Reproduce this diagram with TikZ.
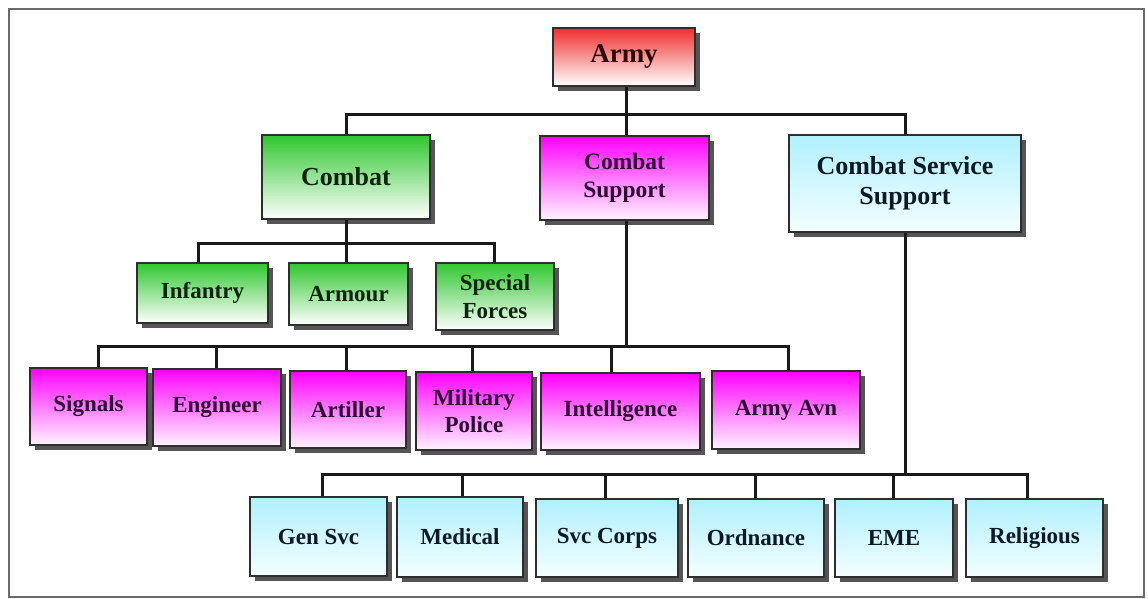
\documentclass[tikz,border=0pt]{standalone}
\usepackage{fontspec}
\setmainfont{Liberation Serif}
\usetikzlibrary{shadows}
\definecolor{frameg}{HTML}{6A6A6A}
\definecolor{boxline}{HTML}{2E2E2E}
\definecolor{shadowg}{HTML}{555555}
\definecolor{redtop}{HTML}{F02E2E}
\definecolor{greentop}{HTML}{2FC72F}
\definecolor{magtop}{HTML}{FF00FF}
\definecolor{cyantop}{HTML}{B0F0FF}
\definecolor{cyanbot}{HTML}{F4FEFF}
\definecolor{magbot}{HTML}{FFF4FF}
\definecolor{txtred}{HTML}{2A0A0A}
\definecolor{txtgreen}{HTML}{0E240E}
\definecolor{txtmag}{HTML}{2C0C32}
\definecolor{txtcyan}{HTML}{0C1A24}
\tikzset{
  box/.style={draw=boxline, line width=1.2pt, inner sep=0pt, align=center,
    drop shadow={shadow xshift=5pt, shadow yshift=-5pt, fill=shadowg, opacity=1}},
  redbox/.style={box, top color=redtop, bottom color=white, text=txtred},
  greenbox/.style={box, top color=greentop, bottom color=white, text=txtgreen},
  magbox/.style={box, top color=magtop, bottom color=magbot, text=txtmag},
  cyanbox/.style={box, top color=cyantop, bottom color=cyanbot, text=txtcyan},
  big/.style={font=\bfseries\fontsize{26}{30}\selectfont},
  mid/.style={font=\bfseries\fontsize{23.5}{28}\selectfont},
  small/.style={font=\bfseries\fontsize{23}{27.5}\selectfont},
  conn/.style={line width=3pt, draw=black!90}
}
\begin{document}
\begin{tikzpicture}[x=1pt,y=-1pt]
\useasboundingbox (0,0) rectangle (1148,599);
\fill[white] (0,0) rectangle (1148,599);
\draw[frameg, line width=2.5pt] (9,9) rectangle (1144,597);

% level 0 and 1
\node[redbox, big, font=\bfseries\fontsize{27}{30}\selectfont, minimum width=142pt, minimum height=58pt] (army) at (624,57) {Army};
\node[greenbox, big, minimum width=168pt, minimum height=84pt] (combat) at (346,177) {Combat};
\node[magbox, mid, minimum width=169pt, minimum height=84pt] (cs) at (624.5,178) {Combat\\Support};
\node[cyanbox, big, minimum width=232pt, minimum height=97pt] (css) at (905,183.5) {Combat Service\\Support};

% combat children
\node[greenbox, small, minimum width=131pt, minimum height=60pt] (inf) at (202.5,293) {Infantry};
\node[greenbox, small, minimum width=119pt, minimum height=62pt] (arm) at (348.5,294) {Armour};
\node[greenbox, small, minimum width=118pt, minimum height=67pt] (sf) at (495,296.5) {Special\\Forces};

% combat support children
\node[magbox, small, minimum width=117pt, minimum height=77pt] (sig) at (88.5,406.5) {Signals};
\node[magbox, small, minimum width=128pt, minimum height=77pt] (eng) at (217,407.5) {Engineer};
\node[magbox, small, minimum width=116pt, minimum height=77pt] (art) at (348,409.5) {Artiller};
\node[magbox, small, minimum width=116pt, minimum height=78pt] (mp) at (474,411) {Military\\Police};
\node[magbox, small, minimum width=159pt, minimum height=77pt] (intel) at (620.5,411.5) {Intelligence};
\node[magbox, small, minimum width=148pt, minimum height=78pt] (avn) at (786,410) {Army Avn};

% combat service support children
\node[cyanbox, small, minimum width=137pt, minimum height=79pt] (gen) at (318.5,536.5) {Gen Svc};
\node[cyanbox, small, minimum width=126pt, minimum height=80pt] (med) at (460,537) {Medical};
\node[cyanbox, small, minimum width=142pt, minimum height=78pt] (svc) at (607,538) {Svc Corps};
\node[cyanbox, small, minimum width=136pt, minimum height=78pt] (ord) at (756,538) {Ordnance};
\node[cyanbox, small, minimum width=118pt, minimum height=78pt] (eme) at (894,538) {EME};
\node[cyanbox, small, minimum width=137pt, minimum height=78pt] (rel) at (1034.5,538) {Religious};

% bar junctions
\coordinate (bar0) at (626,115);
\coordinate (bar1) at (346,243);
\coordinate (bar2) at (626,346);
\coordinate (bar3) at (905,474);

% connectors: level 0 -> 1
\draw[conn] ([xshift=2pt]army.south) -- ([xshift=1.5pt]cs.north);
\draw[conn] (combat.north) |- (bar0) -| (css.north);

% combat
\draw[conn] (combat.south) -- (bar1);
\draw[conn] ([xshift=-4.5pt]inf.north) |- (bar1) -| ([xshift=-1pt]sf.north);
\draw[conn] ([xshift=-2.5pt]arm.north) |- (bar1);

% combat support
\draw[conn] ([xshift=1.5pt]cs.south) -- (bar2);
\draw[conn] ([xshift=9.5pt]sig.north) |- (bar2) -| ([xshift=2pt]avn.north);
\draw[conn] ([xshift=-1pt]eng.north) |- (bar2);
\draw[conn] ([xshift=-2pt]art.north) |- (bar2);
\draw[conn] ([xshift=-2pt]mp.north) |- (bar2);
\draw[conn] ([xshift=-9.5pt]intel.north) |- (bar2);

% combat service support
\draw[conn] (css.south) -- (bar3);
\draw[conn] ([xshift=3.5pt]gen.north) |- (bar3) -| ([xshift=-7.5pt]rel.north);
\draw[conn] ([xshift=2pt]med.north) |- (bar3);
\draw[conn] ([xshift=-2pt]svc.north) |- (bar3);
\draw[conn] ([xshift=-1pt]ord.north) |- (bar3);
\draw[conn] ([xshift=-1pt]eme.north) |- (bar3);
\end{tikzpicture}
\end{document}
